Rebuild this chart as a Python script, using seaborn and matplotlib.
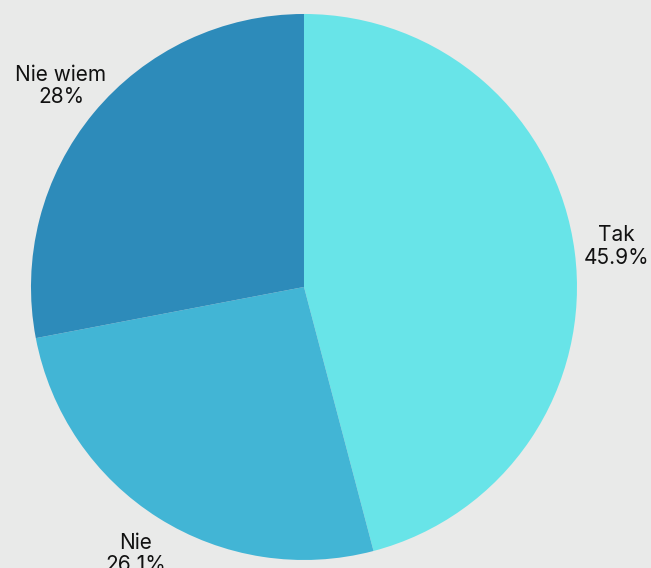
import matplotlib
matplotlib.use('Agg')
import seaborn as sns
import matplotlib.pyplot as plt

# Survey answers
labels = ['Tak', 'Nie', 'Nie wiem']
shares = [45.9, 26.1, 28.0]
pct_text = ['45.9%', '26.1%', '28%']
colors = ['#68e4e8', '#42b5d5', '#2d8bba']

sns.set_theme(style='white')
plt.rcParams['font.family'] = ['Inter', 'DejaVu Sans']

fig = plt.figure(figsize=(6.51, 5.68), dpi=100, facecolor='#e9eae9')
ax = fig.add_axes([0.0476, 0.0141, 0.8387, 0.9613])
ax.set_facecolor('#e9eae9')

wedges, texts = ax.pie(
    shares,
    labels=[f'{l}\n{p}' for l, p in zip(labels, pct_text)],
    colors=colors,
    startangle=90,
    counterclock=False,
    labeldistance=1.155,
    wedgeprops=dict(linewidth=0),
    textprops=dict(fontsize=15, color='#111111', linespacing=1.15),
)
for t in texts:
    t.set_ha('center')
    t.set_va('center')

ax.set_xlim(-1, 1)
ax.set_ylim(-1, 1)
ax.set_aspect('equal')
ax.axis('off')

fig.savefig('out.png', dpi=100, facecolor='#e9eae9')
